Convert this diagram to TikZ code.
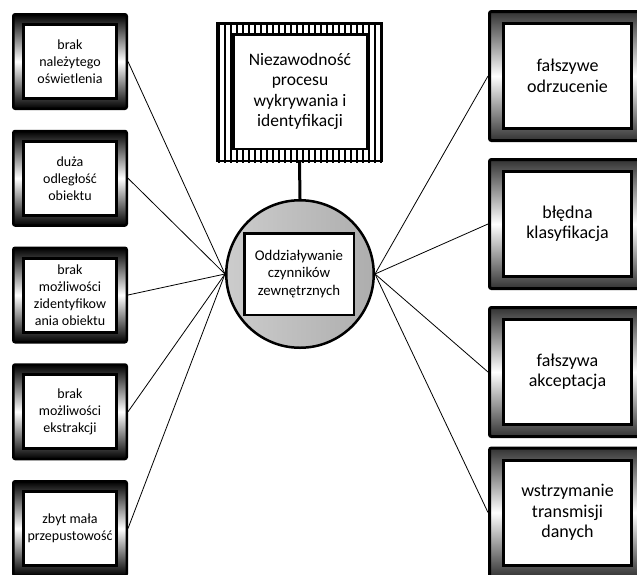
\documentclass[tikz,border=0pt]{standalone}
\usepackage{fontspec}
\setmainfont{Carlito}
\usetikzlibrary{positioning}

\begin{document}
\begin{tikzpicture}[
    x = 1pt, y = -1pt,
    every node/.style = {align=center, inner sep=0pt},
    frameL/.style = {draw, line width=2.5pt, rounded corners=2pt,
      top color=black, bottom color=black, middle color=white,
      minimum width=113.5pt, minimum height=94.5pt},
    cardL/.style = {draw, line width=3pt, fill=white,
      minimum width=93pt, minimum height=74pt,
      font=\fontsize{14}{17}\selectfont},
    frameR/.style = {draw, line width=3pt, rounded corners=2pt,
      top color=black!80, bottom color=black!80, middle color=white,
      minimum width=156pt, minimum height=129pt},
    cardR/.style = {draw, line width=3pt, fill=white,
      minimum width=128pt, minimum height=105pt,
      font=\fontsize{18}{20.5}\selectfont},
    link/.style = {line width=0.8pt},
  ]
    \useasboundingbox (0,0) rectangle (637,574);

    % left column
    \node (l1) [frameL] at (70,61.5) {};
    \node (l2) [frameL, below of=l1, node distance=116.75pt] {};
    \node (l3) [frameL, below of=l2, node distance=116.75pt] {};
    \node (l4) [frameL, below of=l3, node distance=116.75pt] {};
    \node (l5) [frameL, below of=l4, node distance=116.75pt] {};
    \node (tl1) [cardL] at (l1) {brak\\należytego\\oświetlenia};
    \node (tl2) [cardL] at (l2) {duża\\odległość\\obiektu};
    \node (tl3) [cardL] at (l3) {brak\\możliwości\\zidentyfikow\\ania obiektu};
    \node (tl4) [cardL] at (l4) {brak\\możliwości\\ekstrakcji};
    \node (tl5) [cardL] at (l5) {zbyt mała\\przepustowość};

    % right column
    \node (r1) [frameR] at (567.5,76) {};
    \node (r2) [frameR, below of=r1, node distance=148pt] {};
    \node (r3) [frameR, below of=r2, node distance=148pt] {};
    \node (r4) [frameR, below of=r3, node distance=140.5pt] {};
    \node (tr1) [cardR] at (r1) {fałszywe\\odrzucenie};
    \node (tr2) [cardR] at (r2) {błędna\\klasyfikacja};
    \node (tr3) [cardR] at (r3) {fałszywa\\akceptacja};
    \node (tr4) [cardR] at (r4) {wstrzymanie\\transmisji\\danych};

    % top box with striped frame
    \node (top) [draw, line width=2.5pt, minimum width=164.5pt,
      minimum height=137.5pt] at (299.5,92) {};
    \begin{scope}
      \clip (top.south west) rectangle (top.north east);
      \foreach \x in {219,225,...,381}
        \draw[line width=2.8pt] (\x,15) -- (\x,170);
    \end{scope}
    \node (ttop) [draw, line width=2.5pt, fill=white, minimum width=133.5pt,
      minimum height=114.5pt, font=\fontsize{17.5}{20.5}\selectfont]
      at (300,91.5) {Niezawodność\\procesu\\wykrywania i\\identyfikacji};

    % hub
    \node (hub) [circle, draw, line width=2.5pt, minimum size=147.5pt,
      left color=black!20, right color=black!32] at (300,274) {};
    \node (thub) [draw, line width=2.5pt, fill=white, minimum width=109.5pt,
      minimum height=81.5pt, font=\fontsize{14.8}{17.5}\selectfont]
      at (299,274) {Oddziaływanie\\czynników\\zewnętrznych};

    \draw[line width=3pt] (top.south) -- (hub.north);

    \path[link] (hub.west) edge (l1.east)
                (hub.west) edge (l2.east)
                (hub.west) edge (l3.east)
                (hub.west) edge (l4.east)
                (hub.west) edge (l5.east)
                (hub.east) edge (r1.west)
                (hub.east) edge (r2.west)
                (hub.east) edge (r3.west)
                (hub.east) edge (r4.west);
\end{tikzpicture}
\end{document}
